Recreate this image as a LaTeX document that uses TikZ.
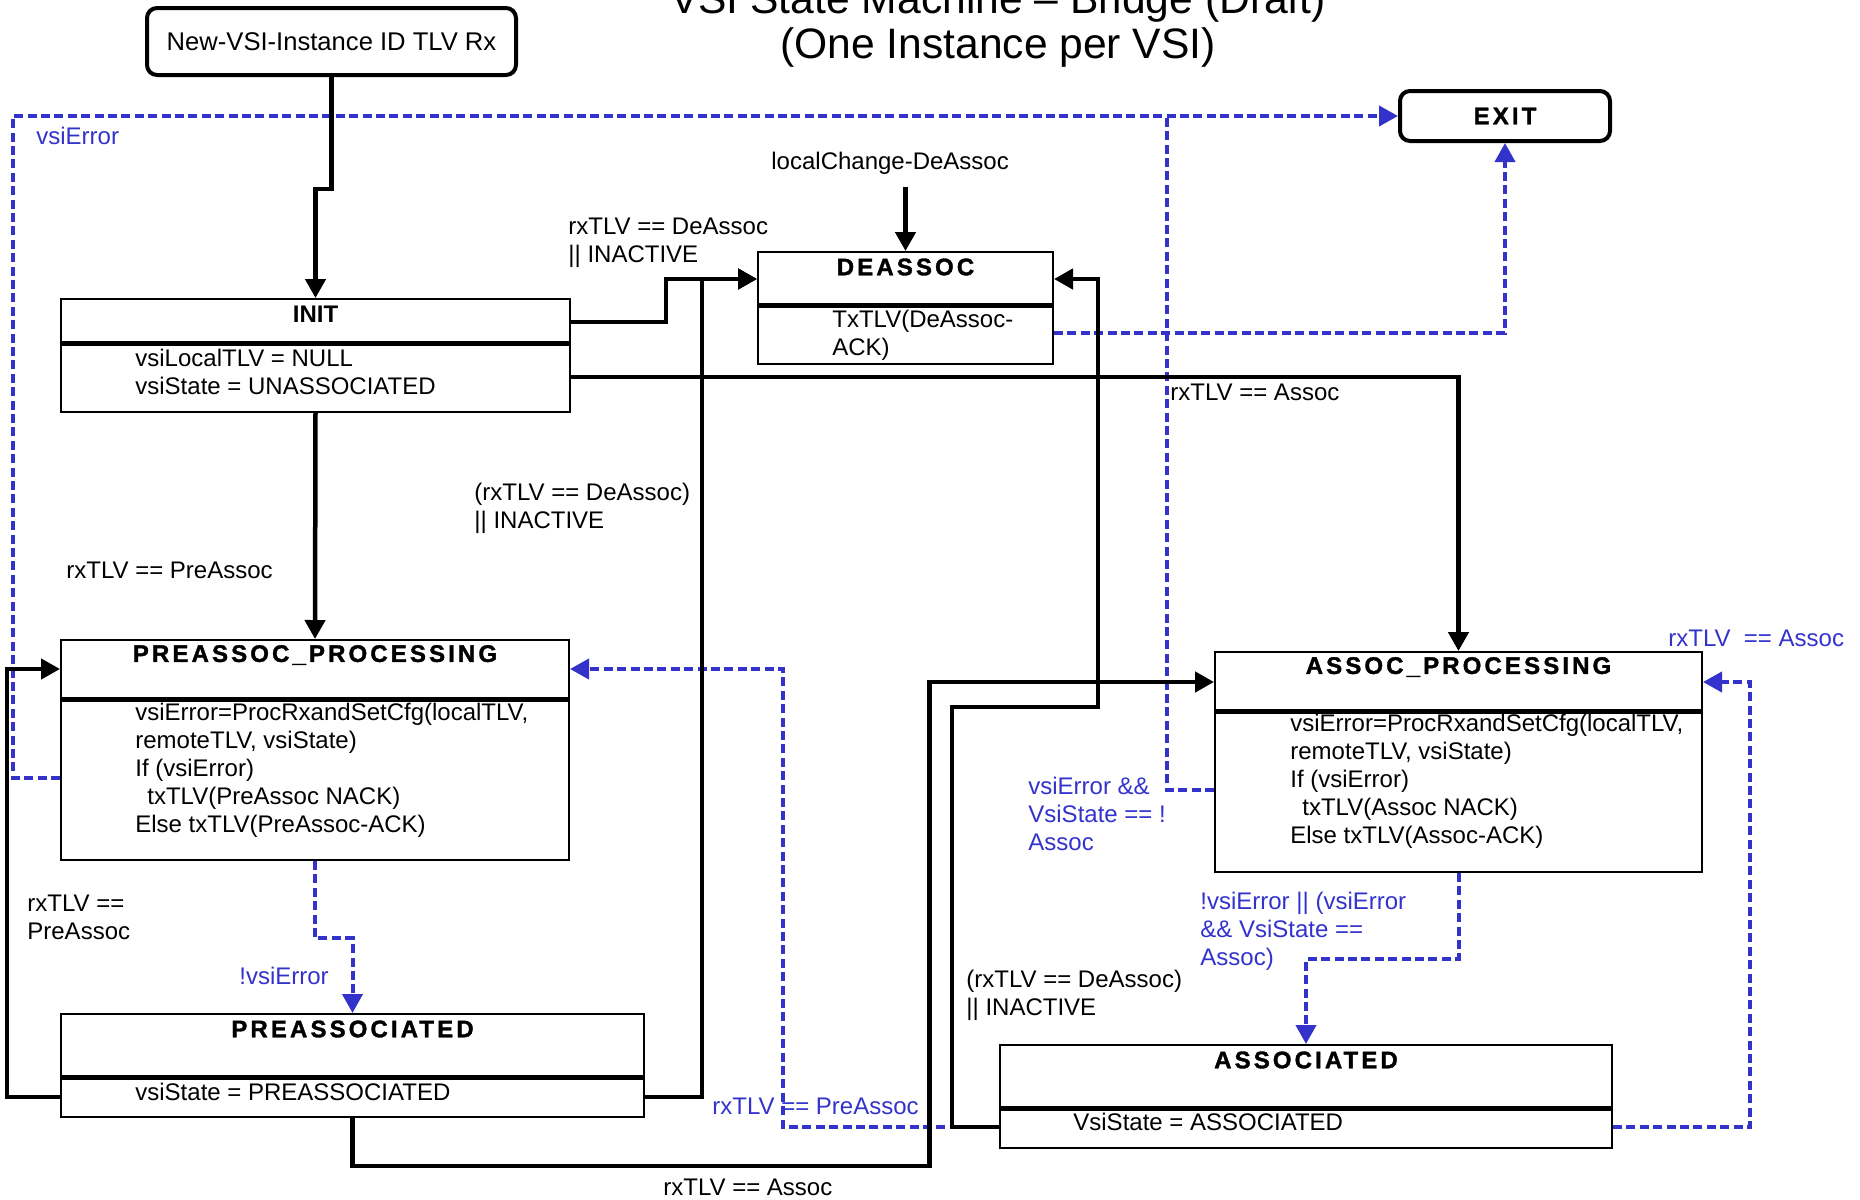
\documentclass[tikz,border=0pt]{standalone}
\usepackage{fontspec}
\setmainfont{Liberation Sans}
\newfontfamily\statefont[LetterSpace=13, BoldFeatures={FakeBold=1.5}]{Liberation Sans}
\usepackage{tikz}
\usetikzlibrary{arrows.meta,positioning}
\definecolor{vsiblue}{RGB}{51,51,204}

\begin{document}
\begin{tikzpicture}[x=0.5pt, y=-0.5pt,
  state/.style={draw, line width=1pt, anchor=north west, inner sep=0pt},
  endbox/.style={draw, line width=2pt, rounded corners=5pt, anchor=north west, inner sep=0pt},
  divider/.style={line width=2.5pt},
  stitle/.style={font=\fontsize{12}{14}\selectfont\statefont\bfseries, inner sep=0pt},
  body/.style={font=\fontsize{12}{14}\selectfont, align=left, anchor=west, inner sep=0pt},
  lbl/.style={body},
  errlbl/.style={body, text=vsiblue},
  trans/.style={line width=2.25pt, -{Triangle[length=9.5pt,width=10pt]}},
  errline/.style={draw=vsiblue, line width=2pt, dash pattern=on 4.5pt off 2.2pt},
  errtrans/.style={errline, -{Triangle[length=9.5pt,width=10pt]}}]
  \useasboundingbox (0,0) rectangle (1860,1200);

  % Title (top line runs off the page)
  \node[font=\fontsize{21.3}{22.5}\selectfont, align=center, anchor=south, inner sep=0pt] (title) at (998,68)
    {VSI State Machine – Bridge (Draft)\\(One Instance per VSI)};

  % Entry and exit
  \node[endbox, minimum width=184.5pt, minimum height=33.5pt] (newvsi) at (145,6) {};
  \node[font=\fontsize{12.8}{14}\selectfont] at (newvsi.center) {New-VSI-Instance ID TLV Rx};
  \node[endbox, minimum width=105pt, minimum height=25pt] (exit) at (1398,89) {};
  \node[stitle] at (exit.center) {EXIT};

  % States
  \node[state, minimum width=254.5pt, minimum height=56.5pt] (init) at (60,298) {};
  \node[state, minimum width=147.5pt, minimum height=56pt] (deassoc) at (757,251) {};
  \node[state, minimum width=254pt, minimum height=110pt] (preproc) at (60,639) {};
  \node[state, minimum width=291.5pt, minimum height=51.5pt] (preassoc) at (60,1013) {};
  \node[state, minimum width=243.5pt, minimum height=110pt] (assocproc) at (1214,651) {};
  \node[state, minimum width=306pt, minimum height=51.5pt] (assoc) at (999,1044) {};

  \foreach \n/\y in {init/343, deassoc/305, preproc/699, preassoc/1077, assocproc/711, assoc/1108}
    \draw[divider] (\n.west |- 0,\y) -- (\n.east |- 0,\y);

  \node[stitle, font=\fontsize{12}{14}\selectfont\bfseries] (init-title) at ([yshift=-8pt]init.north) {INIT};
  \foreach \n/\t in {deassoc/DEASSOC, preproc/PREASSOC\_PROCESSING, preassoc/PREASSOCIATED,
                     assocproc/ASSOC\_PROCESSING, assoc/ASSOCIATED}
    \node[stitle] (\n-title) at ([yshift=-8pt]\n.north) {\t};

  \node[body] (init-body) at (135,371.5) {vsiLocalTLV = NULL\\vsiState = UNASSOCIATED};
  \node[body] (deassoc-body) at (832,335) {TxTLV(DeAssoc-\\ACK)};
  \node[body] (preproc-body) at (135,770.5) {vsiError=ProcRxandSetCfg(localTLV,\\remoteTLV, vsiState)\\If (vsiError)\\\hspace*{6pt}txTLV(PreAssoc NACK)\\Else txTLV(PreAssoc-ACK)};
  \node[body] (preassoc-body) at (135,1092) {vsiState = PREASSOCIATED};
  \node[body] (assocproc-body) at (1290,781) {vsiError=ProcRxandSetCfg(localTLV,\\remoteTLV, vsiState)\\If (vsiError)\\\hspace*{6pt}txTLV(Assoc NACK)\\Else txTLV(Assoc-ACK)};
  \node[body] (assoc-body) at (1073,1122) {VsiState = ASSOCIATED};

  % Labels
  \node[lbl] (chglbl) at (771,163) {localChange-DeAssoc};
  \node[lbl] (deassoclbl) at (568,243) {rxTLV == DeAssoc\\|| INACTIVE};
  \node[lbl] (assoclbl) at (1170,392) {rxTLV == Assoc};
  \node[lbl] (prelbl) at (66,570) {rxTLV == PreAssoc};
  \node[lbl] (predeassoclbl) at (474,508) {(rxTLV == DeAssoc)\\|| INACTIVE};
  \node[lbl] (relbl) at (27,917) {rxTLV ==\\PreAssoc};
  \node[lbl] (assdeassoclbl) at (966,995) {(rxTLV == DeAssoc)\\|| INACTIVE};
  \node[lbl] (bottomlbl) at (663,1187) {rxTLV == Assoc};
  \node[errlbl] (vsierrlbl) at (36,136) {vsiError};
  \node[errlbl] (noerrlbl) at (239,976) {!vsiError};
  \node[errlbl] (asserrlbl) at (1028,814) {vsiError \&\&\\VsiState == !\\Assoc};
  \node[errlbl] (reassoclbl) at (1668,638) {rxTLV\ \ == Assoc};
  \node[errlbl] (assnoerrlbl) at (1200,931) {!vsiError || (vsiError\\\&\& VsiState ==\\Assoc)};
  \node[errlbl] (backprelbl) at (712,1106) {rxTLV == PreAssoc};

  % Error transitions
  \draw[errtrans] (assoc.west |- 0,1127) -- ++(-216,0) |- (preproc.east |- 0,669);
  \draw[errtrans] (preproc.south) -- ++(0,77) -| (preassoc.north);
  \draw[errtrans] (preproc.west |- 0,778) -- ++(-47,0) |- (exit.west);
  \draw[errtrans] (deassoc.east |- 0,333) -| (exit.south);
  \coordinate (errjoin) at (1167,114);
  \draw[errline] (assocproc.west |- 0,790) -| (errjoin);
  \draw[errtrans] (assocproc.south) -- ++(0,86) -| (assoc.north);
  \draw[errtrans] (assoc.east |- 0,1127) -- ++(137,0) |- (assocproc.east |- 0,682);

  % Transitions
  \draw[trans] (newvsi.south) -- ++(0,112) -| (init.north);
  \draw[trans] (init.east |- 0,322) -- ++(95,0) |- (deassoc.west |- 0,279);
  \draw[trans] ([yshift=-6pt]chglbl.south -| deassoc.north) -- (deassoc.north);
  \draw[trans] (init.east |- 0,377) -| (assocproc.north);
  \draw[trans] (init.south) -- (preproc.north);
  \draw[trans] (preassoc.east |- 0,1097) -- ++(57,0) |- (deassoc.west |- 0,279);
  \draw[trans] (preassoc.west |- 0,1097) -- ++(-53,0) |- (preproc.west |- 0,669);
  \draw[trans] (preassoc.south) -- ++(0,48) -- ++(577,0) |- (assocproc.west |- 0,682);
  \draw[trans] (assoc.west |- 0,1127) -- ++(-47,0) -- ++(0,-420) -- ++(146,0) |- (deassoc.east |- 0,279);
\end{tikzpicture}
\end{document}
